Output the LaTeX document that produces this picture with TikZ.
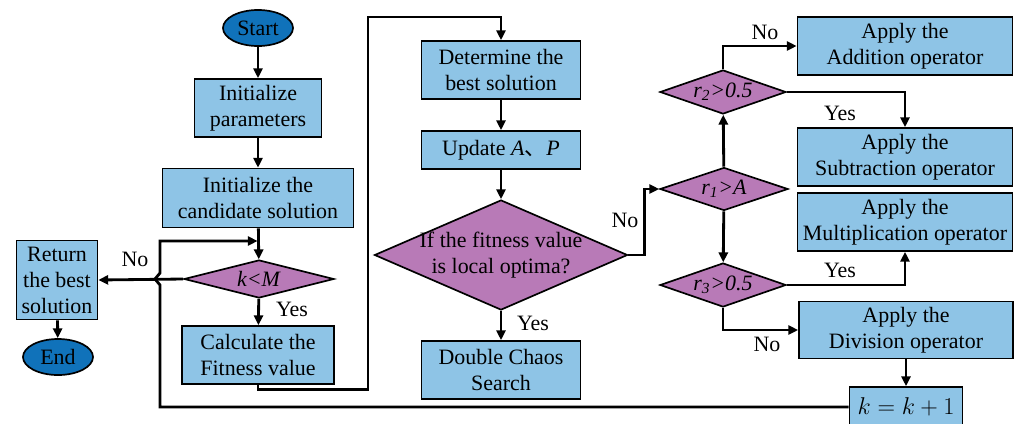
\documentclass[tikz,border=0pt]{standalone}
\usepackage{fontspec}
\setmainfont{Liberation Serif}
\newfontfamily\cjk{Noto Sans CJK SC}
\usetikzlibrary{shapes.geometric,arrows.meta}

\definecolor{boxblue}{RGB}{142,196,230}
\definecolor{termblue}{RGB}{16,114,186}
\definecolor{diapurple}{RGB}{184,122,183}

\tikzset{
    base/.style={draw=black,line width=1.2pt,inner sep=2pt,align=center,
        font=\fontsize{15.6}{18.5}\selectfont},
    box/.style={base,rectangle,fill=boxblue},
    term/.style={base,ellipse,fill=termblue,minimum width=1.75cm,minimum height=0.9cm},
    dia/.style={base,diamond,fill=diapurple,inner sep=0pt},
    arr/.style={line width=2pt,-{Triangle[length=7pt,width=6.5pt]}},
    lab/.style={font=\fontsize{15.6}{18.5}\selectfont}
}

\begin{document}
\begin{tikzpicture}[x=0.025cm,y=-0.025cm]
    \useasboundingbox (0,0) rectangle (1016,423);

    % main column
    \node[term] (start) at (258,28) {Start};
    \node[box,minimum width=3.175cm,minimum height=1.45cm] (init) at (258,108) {Initialize\\parameters};
    \node[box,minimum width=4.775cm,minimum height=1.475cm] (cand) at (258,198) {Initialize the\\candidate solution};
    \node[dia,minimum width=3.75cm,minimum height=0.95cm,
        label={[lab]center:\textit{k<M}}] (kM) at (259,279) {};
    \node[box,minimum width=3.8cm,minimum height=1.45cm] (calc) at (258,355) {Calculate the\\Fitness value};
    \node[box,minimum width=2.025cm,minimum height=1.975cm] (ret) at (57,280) {Return\\the best\\solution};
    \node[term] (end) at (58,357) {End};

    % second column
    \node[box,minimum width=3.975cm,minimum height=1.45cm] (det) at (501,70) {Determine the\\best solution};
    \node[box,minimum width=3.975cm,minimum height=0.95cm] (upd) at (501,150) {Update \textit{A}{\cjk 、}\textit{P}};
    \node[dia,minimum width=6.325cm,minimum height=2.75cm,
        label={[lab,align=center]center:If the fitness value\\is local optima?}] (opt) at (501,255) {};
    \node[box,minimum width=3.975cm,minimum height=1.45cm] (chaos) at (501,370) {Double Chaos\\Search};

    % operator choice
    \node[dia,minimum width=3.2cm,minimum height=1.075cm,
        label={[lab]center:\textit{r\textsubscript{1}>A}}] (r1) at (724,189) {};
    \node[dia,minimum width=3.15cm,minimum height=1.1cm,
        label={[lab]center:\textit{r\textsubscript{2}>0.5}}] (r2) at (723,92) {};
    \node[dia,minimum width=3.15cm,minimum height=1.1cm,
        label={[lab]center:\textit{r\textsubscript{3}>0.5}}] (r3) at (723,285) {};
    \node[box,minimum width=5.375cm,minimum height=1.45cm] (add) at (905,46) {Apply the\\Addition operator};
    \node[box,minimum width=5.375cm,minimum height=1.45cm] (sub) at (905,157) {Apply the\\Subtraction operator};
    \node[box,minimum width=5.375cm,minimum height=1.45cm] (mul) at (905,222) {Apply the\\Multiplication operator};
    \node[box,minimum width=5.35cm,minimum height=1.425cm] (div) at (906,330) {Apply the\\Division operator};
    \node[box,minimum width=2.825cm,minimum height=1cm,font=\fontsize{17.5}{20}\selectfont] (kk) at (906,407) {$k=k+1$};

    \coordinate (top) at (368,17);
    \coordinate (jump) at (160,279);
    \coordinate (loop) at (160,241);

    % arrows
    \draw[arr] (start) -- (init);
    \draw[arr] (init) -- (cand);
    \draw[arr] (cand) -- (kM);
    \draw[arr] (kM) -- (calc);
    \draw[arr] (kM.west) -- (ret.east);
    \draw[arr] (ret) -- (end);
    \draw[arr] (calc.south) -- ++(0,5) -| (top) -| (det.north);
    \draw[arr] (det) -- (upd);
    \draw[arr] (upd) -- (opt);
    \draw[arr] (opt) -- (chaos);
    \draw[arr] (opt.east) -- ++(16,0) |- (r1.west);
    \draw[arr] (r1) -- (r2);
    \draw[arr] (r1) -- (r3);
    \draw[arr] (r2.north) |- (add.west);
    \draw[arr] (r2.east) -| (sub.north);
    \draw[arr] (r3.east) -| (mul.south);
    \draw[arr] (r3.south) |- (div.west);
    \draw[arr] (div) -- (kk);

    % back to the loop test, hopping over the No line
    \draw[arr,line join=miter] (kk.west) -| ([yshift=-0.15cm]jump) -- ++(-5,-6) -- ++(5,-6)
        -- (loop) -- ([xshift=-1pt]kM.north |- loop);

    % labels
    \node[lab] (no1) at (135,259) {No};
    \node[lab] (yes1) at (292,309) {Yes};
    \node[lab] (yes2) at (533,323) {Yes};
    \node[lab] (no2) at (625,220) {No};
    \node[lab] (no3) at (765,32) {No};
    \node[lab] (yes3) at (840,113) {Yes};
    \node[lab] (yes4) at (840,270) {Yes};
    \node[lab] (no4) at (767,344) {No};
\end{tikzpicture}
\end{document}
